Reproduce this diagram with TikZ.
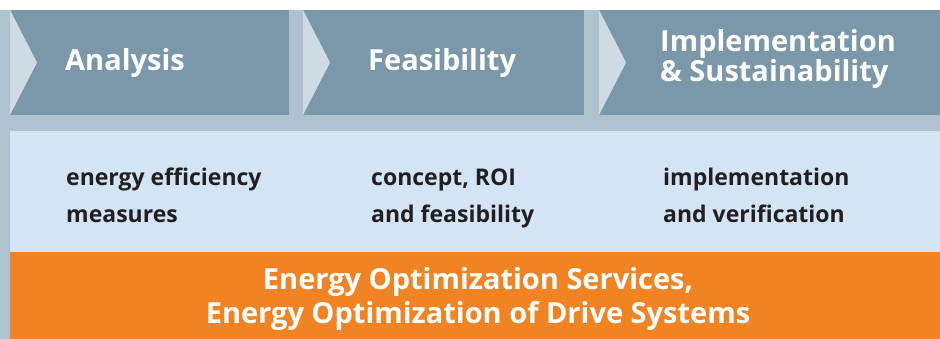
\documentclass[tikz,border=0pt]{standalone}
\usepackage{fontspec}
\setmainfont{Open Sans}
\definecolor{slatedark}{HTML}{7A98A9}
\definecolor{slatelight}{HTML}{AEC3CE}
\definecolor{notch}{HTML}{CEDBE3}
\definecolor{panel}{HTML}{D3E5F4}
\definecolor{orangeband}{HTML}{F28322}
\definecolor{bodytext}{HTML}{231F20}
\begin{document}
\begin{tikzpicture}[x=1pt,y=-1pt,
  phasebox/.style={fill=slatedark, draw=none},
  notchtri/.style={fill=notch, draw=none},
  headtext/.style={anchor=base west, inner sep=0pt, text=white, align=left,
    font=\fontsize{29}{30}\selectfont\bfseries},
  bodytxt/.style={anchor=base west, inner sep=0pt, text=bodytext, align=left,
    font=\fontsize{23}{37}\selectfont\bfseries},
  bandtext/.style={anchor=base, inner sep=0pt, text=white, align=center,
    font=\fontsize{29}{34}\selectfont\bfseries}]
\useasboundingbox (0,0) rectangle (940,339);
\fill[white] (0,0) rectangle (940,339);
\fill[slatelight] (0,10) rectangle (940,339);
% phase boxes
\fill[phasebox] (10,10) rectangle (289,115);
\fill[phasebox] (303,10) rectangle (584,115);
\fill[phasebox] (599,10) rectangle (940,115);
\fill[notchtri] (10,10) -- (37,62.5) -- (10,115) -- cycle;
\fill[notchtri] (303,10) -- (330,62.5) -- (303,115) -- cycle;
\fill[notchtri] (599,10) -- (626,62.5) -- (599,115) -- cycle;
% panel and band
\fill[panel] (10,131) rectangle (940,252);
\fill[orangeband] (10,252) rectangle (940,339);
% texts (multi-line nodes: base = baseline of last line)
\node[headtext] (h1) at (65,71) {Analysis};
\node[headtext] (h2) at (368,71) {Feasibility};
\node[headtext] (h3) at (660,82) {Implementation\\\& Sustainability};
\node[bodytxt] (b1) at (66,223) {energy efficiency\\measures};
\node[bodytxt] (b2) at (371,223) {concept, ROI\\and feasibility};
\node[bodytxt] (b3) at (663,223) {implementation\\and verification};
\node[bandtext] (o) at (478,323) {Energy Optimization Services,\\Energy Optimization of Drive Systems};
\end{tikzpicture}
\end{document}
